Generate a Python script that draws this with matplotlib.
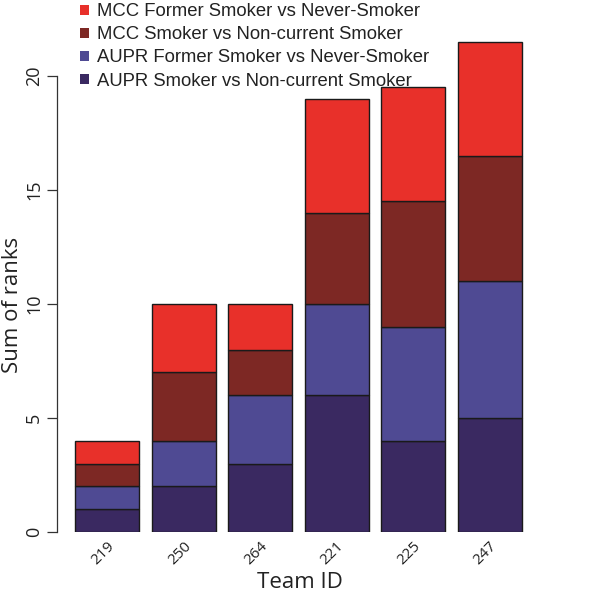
import matplotlib
matplotlib.use("Agg")
import matplotlib.pyplot as plt
import numpy as np
from matplotlib.patches import Patch

teams = ["219", "250", "264", "221", "225", "247"]
aupr_smoker = [1, 2, 3, 6, 4, 5]
aupr_former = [1, 2, 3, 4, 5, 6]
mcc_smoker = [1, 3, 2, 4, 5.5, 5.5]
mcc_former = [1, 3, 2, 5, 5, 5]

series = [
    ("AUPR Smoker vs Non-current Smoker", aupr_smoker, "#3A2961"),
    ("AUPR Former Smoker vs Never-Smoker", aupr_former, "#4F4A93"),
    ("MCC Smoker vs Non-current Smoker", mcc_smoker, "#7D2824"),
    ("MCC Former Smoker vs Never-Smoker", mcc_former, "#E8302A"),
]

W, H = 600, 595
fig = plt.figure(figsize=(W / 100, H / 100), dpi=100)
left_px, right_px = 57, 545
y0_px = 532
ppu = 22.8
ymax = 22.5
top_px = y0_px - ymax * ppu
ax = fig.add_axes([left_px / W, (H - y0_px) / H, (right_px - left_px) / W, (y0_px - top_px) / H])

spacing = 76.5
x = np.arange(len(teams))
ax.set_xlim((left_px - 107) / spacing, (right_px - 107) / spacing)
ax.set_ylim(0, ymax)

bottom = np.zeros(len(teams))
handles = []
for name, vals, col in series:
    v = np.array(vals, dtype=float)
    ax.bar(x, v, width=64 / spacing, bottom=bottom, color=col, edgecolor="#1a1a1a", linewidth=1.0)
    bottom += v
    handles.append(Patch(facecolor=col, edgecolor="none", label=name))

for s in ["top", "right", "bottom"]:
    ax.spines[s].set_visible(False)
ax.spines["left"].set_bounds(0, 20)
ax.spines["left"].set_linewidth(0.9)
ax.spines["left"].set_color("#333333")

tickfont = "Open Sans"
ax.set_yticks([0, 5, 10, 15, 20])
ax.set_yticklabels(["0", "5", "10", "15", "20"], rotation=90, va="center", fontsize=13, family=tickfont, color="#222222")
ax.tick_params(axis="y", length=7, width=0.9, color="#333333", pad=3)
ax.set_xticks(x)
ax.set_xticklabels(teams, rotation=45, ha="right", rotation_mode="anchor", fontsize=11, family=tickfont, color="#222222")
ax.tick_params(axis="x", length=0, pad=5)

fig.text(13 / W, 1 - 305 / H, "Sum of ranks", rotation=90, ha="center", va="center",
         fontsize=16, family=tickfont, color="#222222")
fig.text(300 / W, 1 - 583 / H, "Team ID", ha="center", va="center",
         fontsize=16, family=tickfont, color="#222222")

leg = fig.legend(handles=handles[::-1], loc="upper left", bbox_to_anchor=(71 / W, 1 - (-6) / H),
                 frameon=False, handlelength=0.45, handleheight=0.45,
                 handletextpad=0.45, labelspacing=0.33, borderpad=0,
                 prop={"family": "Liberation Sans", "size": 13.3})
for t in leg.get_texts():
    t.set_color("#222222")

fig.savefig("out.png", dpi=100)
